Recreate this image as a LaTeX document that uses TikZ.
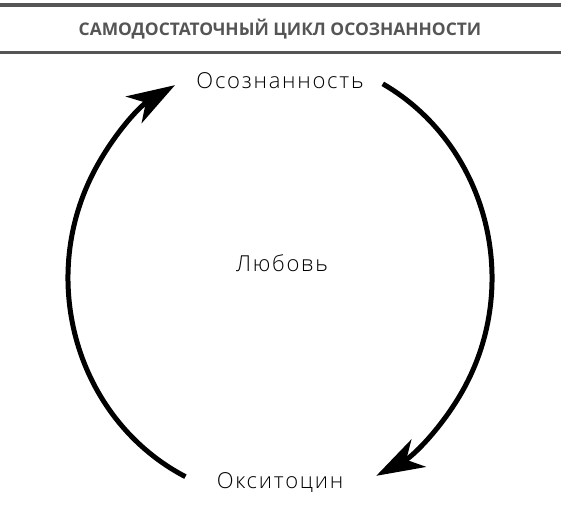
\documentclass[tikz,border=0pt]{standalone}
\usepackage{fontspec}
\setmainfont{Open Sans Light}[LetterSpace=8]
\newfontfamily\titlefont{Open Sans Bold}
\usetikzlibrary{positioning,arrows.meta}
\definecolor{rulegray}{HTML}{555555}
\tikzset{
  every node/.style={
    inner sep=0pt
  },
  word/.style={font=\fontsize{22}{22}\selectfont, anchor=base},
  heading/.style={font=\titlefont\fontsize{17.4}{17.4}\selectfont, text=rulegray},
  cycleline/.style={line width=5pt, black},
  cyclearrow/.style={-{Stealth[length=48pt,width=31pt,inset=14pt]}}
}
\begin{document}
\begin{tikzpicture}[x=1pt,y=1pt]
  \useasboundingbox (0,0) rectangle (561,506);
  \fill[rulegray] (0,499.3) rectangle (561,502.7);
  \fill[rulegray] (0,452) rectangle (561,455.3);
  \node[heading] (Title) at (280,477) {САМОДОСТАТОЧНЫЙ ЦИКЛ ОСОЗНАННОСТИ};
  \node[word] (Love) at (282,234) {Любовь};
  \node[word, above=183pt of Love.base, anchor=base, xshift=-2pt] (Aware) {Осознанность};
  \node[word, below=216pt of Love.base, anchor=base, xshift=-2pt] (Oxy) {Окситоцин};
  \coordinate (Mid) at (280,228);
  \coordinate (LeftFoot) at ([shift={(243.5:212pt and 222pt)}]Mid);
  \coordinate (RightTop) at ([shift={(61:212pt and 222pt)}]Mid);
  \draw[cycleline, cyclearrow] (LeftFoot) arc[start angle=243.5, end angle=119.7, x radius=212pt, y radius=222pt];
  \draw[cycleline, cyclearrow] (RightTop) arc[start angle=61, end angle=-63, x radius=212pt, y radius=222pt];
\end{tikzpicture}
\end{document}
